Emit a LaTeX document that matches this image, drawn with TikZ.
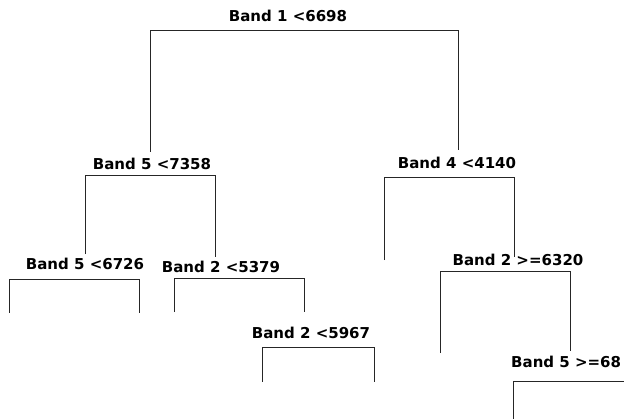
\documentclass[tikz,border=0pt]{standalone}
\usepackage{fontspec}
\setmainfont{DejaVu Sans}
\usepackage{tikz}
\tikzset{
split/.style={font=\fontsize{15}{18}\selectfont\bfseries, inner sep=4pt},
branch/.style={draw, line width=1pt, black!85},
leaf/.style={}
}
\usetikzlibrary{calc, positioning}

\begin{document}
\begin{tikzpicture}[x=1pt, y=-1pt]
			\useasboundingbox (0,0) rectangle (624,418);
			\node[split] (b1) at (288,16) {Band 1 <6698};
			\node[split] (b5a) at (152,164) {Band 5 <7358};
			\node[split] (b4) at (457,162.7) {Band 4 <4140};
			\node[split] (b5b) at (85,264) {Band 5 <6726};
			\node[split] (b2a) at (221,266.7) {Band 2 <5379};
			\node[split] (b2b) at (518,260) {Band 2 >=6320};
			\node[split] (b2c) at (311,332.7) {Band 2 <5967};
			\node[split, anchor=west, inner xsep=0pt] (b5c) at (511,361.7) {Band 5 >=68};
			% ---- bar ends
			\coordinate (b1l) at (150,30);
			\coordinate (b1r) at (458,30);
			\coordinate (b5al) at (85,175);
			\coordinate (b5ar) at (215,175);
			\coordinate (b4l) at (384,177.5);
			\coordinate (b4r) at (514,177.5);
			\coordinate (b5bl) at (9,279);
			\coordinate (b5br) at (139,279);
			\coordinate (b2al) at (174,278.7);
			\coordinate (b2ar) at (304,278.7);
			\coordinate (b2bl) at (440,271);
			\coordinate (b2br) at (570,271);
			\coordinate (b2cl) at (262.5,347.3);
			\coordinate (b2cr) at (374.5,347.3);
			\coordinate (b5cl) at (513.5,381);
			\coordinate (b5cr) at (630,381);
			% ---- leaves
			\coordinate[leaf] (l1) at (384,260);
			\coordinate[leaf] (l2) at (9,312.7);
			\coordinate[leaf] (l3) at (139,312.7);
			\coordinate[leaf] (l4) at (174,312);
			\coordinate[leaf] (l5) at (440,353);
			\coordinate[leaf] (l6) at (262.5,381.7);
			\coordinate[leaf] (l7) at (374.5,381.7);
			\coordinate[leaf] (l8) at (513.5,420);
			% ----
			\path[branch, shorten <=2pt, shorten >=3pt] (b1l |- b5a.north) -- (b1l) -- (b1r) -- (b1r |- b4.north);
			\path[branch] (b5b.north -| b5al) -- (b5al) -- (b5ar) -- (b5ar |- b2a.north);
			\path[branch] (l1) -- (b4l) -- (b4r) -- ($(b4r |- b2b.north)+(0,7)$);
			\path[branch] (l2) -- (b5bl) -- (b5br) -- (l3);
			\path[branch] (l4) -- (b2al) -- (b2ar) -- ($(b2ar |- b2c.north)+(0,-11)$);
			\path[branch] (l5) -- (b2bl) -- (b2br) -- ($(b2br |- b5c.north)+(0,-1)$);
			\path[branch] (l6) -- (b2cl) -- (b2cr) -- (l7);
			\path[branch] (l8) -- (b5cl) -- (b5cr);
\end{tikzpicture}
\end{document}
